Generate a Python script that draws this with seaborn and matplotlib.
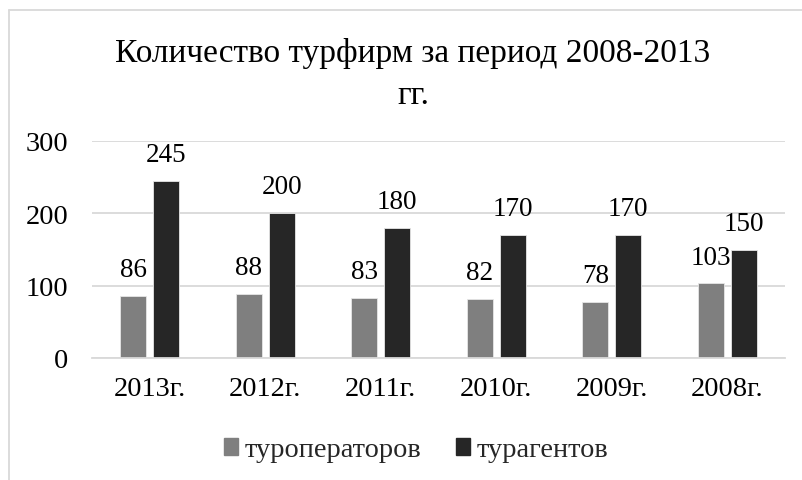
import pandas as pd
import matplotlib
matplotlib.use("Agg")
import matplotlib.pyplot as plt
import seaborn as sns
from matplotlib.lines import Line2D

years = ["2013г.", "2012г.", "2011г.", "2010г.", "2009г.", "2008г."]
operators = [86, 88, 83, 82, 78, 103]
agents = [245, 200, 180, 170, 170, 150]
series_names = ["туроператоров", "турагентов"]
title = "Количество турфирм за период 2008-2013\nгг."

df = pd.DataFrame({
    "year": years * 2,
    "value": operators + agents,
    "kind": [series_names[0]] * len(years) + [series_names[1]] * len(years),
})

sns.set_theme(style="white")
plt.rcParams["font.family"] = ["Liberation Serif", "DejaVu Serif"]

fig = plt.figure(figsize=(8.02, 4.81), dpi=100)
ax = fig.add_axes([92 / 802, 1 - 359 / 481, (785 - 92) / 802, (359 - 142) / 481])

sns.barplot(data=df, x="year", y="value", hue="kind", order=years,
            hue_order=series_names, palette=["#7f7f7f", "#262626"],
            width=0.571, gap=0.21, edgecolor="#e6e6e6", linewidth=0.6,
            legend=False, ax=ax)

ax.set_ylim(0, 300)
ax.set_yticks([0, 100, 200, 300])
ax.set_xlim(-0.5, len(years) - 0.5)
ax.yaxis.grid(True, color="#d9d9d9", linewidth=1.3)
ax.set_axisbelow(True)
for s in ["top", "right", "left"]:
    ax.spines[s].set_visible(False)
ax.spines["bottom"].set_color("#d9d9d9")
ax.spines["bottom"].set_linewidth(1.3)
ax.tick_params(axis="y", length=0, pad=17, labelsize=20.5, labelcolor="black")
ax.tick_params(axis="x", length=0, pad=13, labelsize=20.5, labelcolor="black")
ax.set_xlabel("")
ax.set_ylabel("")

for c in ax.containers:
    ax.bar_label(c, padding=10, fontsize=19.5, color="black")

fig.text(413 / 802, 1 - 38 / 481, title, ha="center", va="top",
         fontsize=24, color="black", linespacing=1.5)

handles = [plt.Rectangle((0, 0), 1, 1, color="#7f7f7f"),
           plt.Rectangle((0, 0), 1, 1, color="#262626")]
fig.legend(handles, series_names, loc="center", ncol=2,
           bbox_to_anchor=(416 / 802, 1 - 451 / 481), frameon=False,
           fontsize=20.4, handlelength=0.5, handleheight=0.5,
           handletextpad=0.25, columnspacing=1.2)

# chart area border (left and top)
fig.add_artist(Line2D([9 / 802, 9 / 802], [0, 1 - 11 / 481],
                      transform=fig.transFigure, color="#d9d9d9", linewidth=1.3))
fig.add_artist(Line2D([9 / 802, 1], [1 - 11 / 481, 1 - 11 / 481],
                      transform=fig.transFigure, color="#d9d9d9", linewidth=1.3))

fig.savefig("out.png", dpi=100, facecolor="white")
